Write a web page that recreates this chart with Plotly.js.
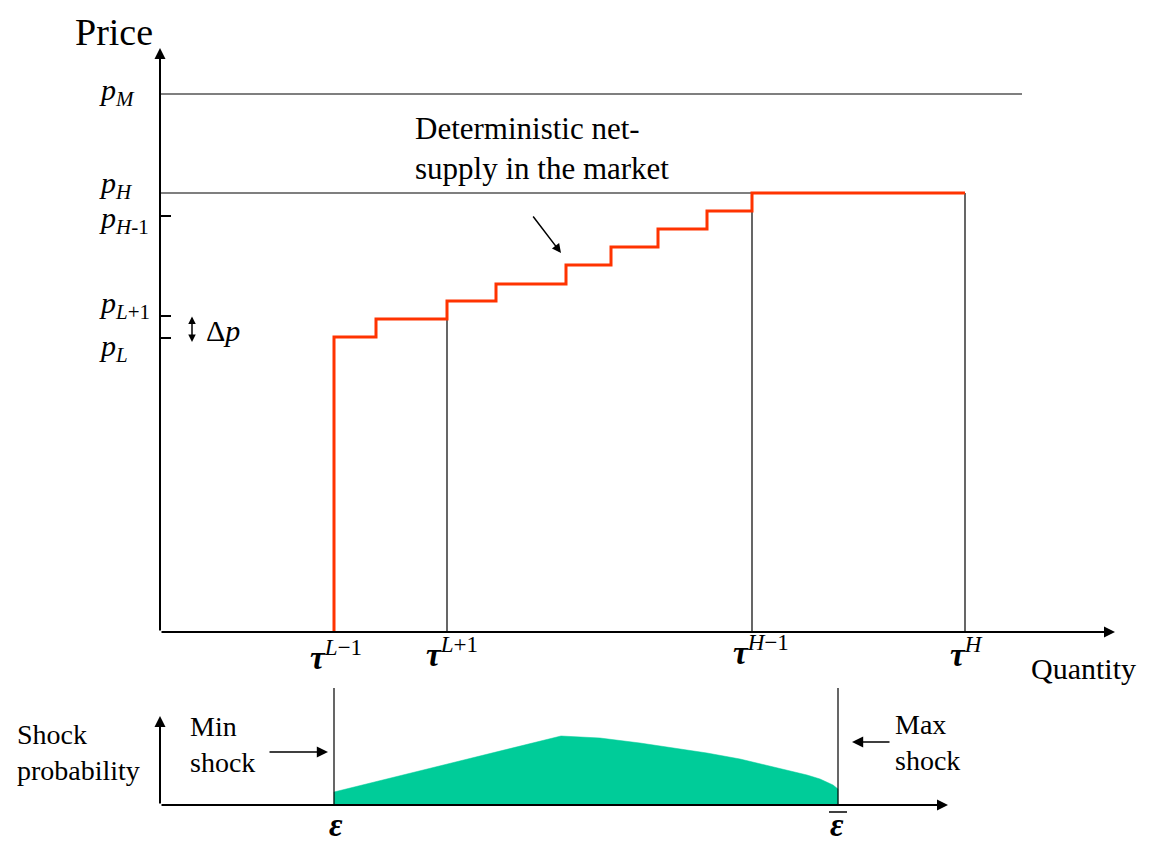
<!DOCTYPE html>
<html>
<head>
<meta charset="utf-8">
<script src="https://cdn.plot.ly/plotly-3.0.1.min.js"></script>
<style>html,body{margin:0;padding:0;background:#fff;}#chart{width:1149px;height:846px;}</style>
</head>
<body>
<div id="chart"></div>
<script>
// ---- Data ----
// Step supply curve: quantity at which each price level starts, and the price levels
const stepQuantity = [174, 216, 287, 336, 406, 451, 498, 547, 592];
const stepPrice    = [295, 313, 331, 348, 367, 385, 403, 421, 439];
const maxQuantity  = 805;
// Price reference levels
const priceM  = 538;
const priceH  = 439;
const priceH1 = 416;
const priceL1 = 316;
const priceL  = 294;
const pMLineEnd = 862;
// Threshold quantities
const tauQuantity = [174, 287, 592, 805];
const tauTopPrice = [0, 313, 421, 439];
const tauLabels = [
  '<b><i>τ</i></b><sup><i>L</i>\u22121</sup>',
  '<b><i>τ</i></b><sup><i>L</i>+1</sup>',
  '<b><i>τ</i></b><sup><i>H</i>\u22121</sup>',
  '<b><i>τ</i></b><sup><i>H</i></sup>'
];
// Shock probability density (lower panel)
const shockX = [174, 174, 401, 440, 480, 547, 580, 613, 630, 647, 660, 667, 673, 678, 678];
const shockY = [0, 13, 69, 67, 62, 52, 46, 38, 34, 30, 26, 23, 20, 16, 0];
const shockMin = 174, shockMax = 678, shockLineTop = 117;

// ---- helpers for layout positions (pixels -> paper) ----
const W = 1149, H = 846;
const px = v => v / W;
const py = v => 1 - v / H;
const FONT = 'Liberation Serif';

const stepX = [stepQuantity[0], ...stepQuantity, maxQuantity];
const stepY = [0, ...stepPrice, stepPrice[stepPrice.length - 1]];

const thin = {color: '#000', width: 1.2};
const traces = [
  {x: [0, pMLineEnd], y: [priceM, priceM], mode: 'lines', line: thin, xaxis: 'x', yaxis: 'y'},
  {x: [0, stepQuantity[stepQuantity.length - 1]], y: [priceH, priceH], mode: 'lines', line: thin, xaxis: 'x', yaxis: 'y'}
];
for (let i = 1; i < tauQuantity.length; i++) {
  traces.push({x: [tauQuantity[i], tauQuantity[i]], y: [0, tauTopPrice[i]], mode: 'lines',
    line: thin, xaxis: 'x', yaxis: 'y'});
}
traces.push({x: stepX, y: stepY, mode: 'lines', line: {color: '#ff3300', width: 3, shape: 'hv'}, xaxis: 'x', yaxis: 'y'});
traces.push({x: shockX, y: shockY, mode: 'lines', fill: 'toself', fillcolor: '#00cc99',
  line: {color: '#00cc99', width: 0.5}, xaxis: 'x2', yaxis: 'y2'});
traces.push({x: [shockMin, shockMin], y: [0, shockLineTop], mode: 'lines', line: thin, xaxis: 'x2', yaxis: 'y2'});
traces.push({x: [shockMax, shockMax], y: [0, shockLineTop], mode: 'lines', line: thin, xaxis: 'x2', yaxis: 'y2'});

const txt = (x, y, text, size, opts) => Object.assign({
  xref: 'paper', yref: 'paper', x: px(x), y: py(y), text: text, showarrow: false,
  font: {family: FONT, size: size, color: '#000'}, xanchor: 'center', yanchor: 'middle'
}, opts || {});

const annotations = [
  {xref: 'x', yref: 'y', axref: 'x', ayref: 'y', x: 955, y: 0, ax: 0, ay: 0, text: '', showarrow: true,
   arrowhead: 2, arrowsize: 1.1, arrowwidth: 2, arrowcolor: '#000'},
  {xref: 'x', yref: 'y', axref: 'x', ayref: 'y', x: 0, y: 584, ax: 0, ay: 0, text: '', showarrow: true,
   arrowhead: 2, arrowsize: 1.1, arrowwidth: 2, arrowcolor: '#000'},
  {xref: 'x2', yref: 'y2', axref: 'x2', ayref: 'y2', x: 788, y: 0, ax: 0, ay: 0, text: '', showarrow: true,
   arrowhead: 2, arrowsize: 1.1, arrowwidth: 2, arrowcolor: '#000'},
  {xref: 'x2', yref: 'y2', axref: 'x2', ayref: 'y2', x: 0, y: 89, ax: 0, ay: 0, text: '', showarrow: true,
   arrowhead: 2, arrowsize: 1.1, arrowwidth: 2, arrowcolor: '#000'},
  txt(114, 32, 'Price', 38),
  txt(1083, 668, 'Quantity', 30),
  txt(97, 92, '<i>p</i><sub><i>M</i></sub>', 30, {xanchor: 'left'}),
  txt(97, 185, '<i>p</i><sub><i>H</i></sub>', 30, {xanchor: 'left'}),
  txt(97, 220, '<i>p</i><sub><i>H</i>-1</sub>', 30, {xanchor: 'left'}),
  txt(97, 305, '<i>p</i><sub><i>L</i>+1</sub>', 30, {xanchor: 'left'}),
  txt(97, 348, '<i>p</i><sub><i>L</i></sub>', 30, {xanchor: 'left'}),
  txt(204, 330, 'Δ<i>p</i>', 30, {xanchor: 'left'}),
  {xref: 'paper', yref: 'paper', x: px(192), y: py(342), ax: 0, ay: -27, text: '', showarrow: true,
   arrowside: 'end+start', arrowhead: 2, startarrowhead: 2, arrowsize: 1, startarrowsize: 1, arrowwidth: 1.5, arrowcolor: '#000'},
  txt(413, 149, 'Deterministic net-<br>supply in the market', 31, {xanchor: 'left', align: 'left'}),
  {xref: 'paper', yref: 'paper', x: px(561), y: py(253), ax: -29, ay: -38, text: '', showarrow: true,
   arrowhead: 2, arrowsize: 1.2, arrowwidth: 1.5, arrowcolor: '#000'},
  txt(15, 752, 'Shock<br>probability', 28, {xanchor: 'left', align: 'left'}),
  txt(188, 744, 'Min<br>shock', 28, {xanchor: 'left', align: 'left'}),
  txt(893, 742, 'Max<br>shock', 28, {xanchor: 'left', align: 'left'}),
  {xref: 'paper', yref: 'paper', x: px(328), y: py(752), ax: -60, ay: 0, text: '', showarrow: true,
   arrowhead: 2, arrowsize: 1.4, arrowwidth: 1.6, arrowcolor: '#000'},
  {xref: 'paper', yref: 'paper', x: px(852), y: py(742), ax: 39, ay: 0, text: '', showarrow: true,
   arrowhead: 2, arrowsize: 1.4, arrowwidth: 1.6, arrowcolor: '#000'},
  txt(336, 825, '<b><i>ε</i></b>', 33),
  txt(837, 825, '<b><i>ε</i></b>', 33)
];
const tauLabelPos = [[336, 655], [452, 652], [761, 650], [966, 652]];
tauLabels.forEach((t, i) => annotations.push(txt(tauLabelPos[i][0], tauLabelPos[i][1], t, 33)));

const layout = {
  width: W, height: H,
  margin: {l: 0, r: 0, t: 0, b: 0},
  paper_bgcolor: '#fff', plot_bgcolor: 'rgba(0,0,0,0)',
  showlegend: false,
  font: {family: FONT},
  xaxis: {domain: [px(160), px(1115)], range: [0, 955], showgrid: false, zeroline: false, showline: false,
          showticklabels: false, ticks: '', fixedrange: true},
  yaxis: {domain: [py(632), py(48)], range: [0, 584], showgrid: false, zeroline: false, showline: false,
          tickvals: [priceH1, priceL1, priceL], showticklabels: false, ticks: 'inside', ticklen: 11,
          tickwidth: 1.5, tickcolor: '#000', fixedrange: true},
  xaxis2: {domain: [px(160), px(948)], range: [0, 788], showgrid: false, zeroline: false, showline: false,
           showticklabels: false, ticks: '', anchor: 'y2', fixedrange: true},
  yaxis2: {domain: [py(805), py(688)], range: [0, 117], showgrid: false, zeroline: false, showline: false,
           showticklabels: false, ticks: '', anchor: 'x2', fixedrange: true},
  annotations: annotations,
  shapes: [
    {type: 'line', xref: 'paper', yref: 'paper', x0: px(829), x1: px(847), y0: py(812), y1: py(812),
     line: {color: '#000', width: 1.5}}
  ]
};

Plotly.newPlot('chart', traces, layout, {displayModeBar: false, staticPlot: true});
</script>
</body>
</html>
